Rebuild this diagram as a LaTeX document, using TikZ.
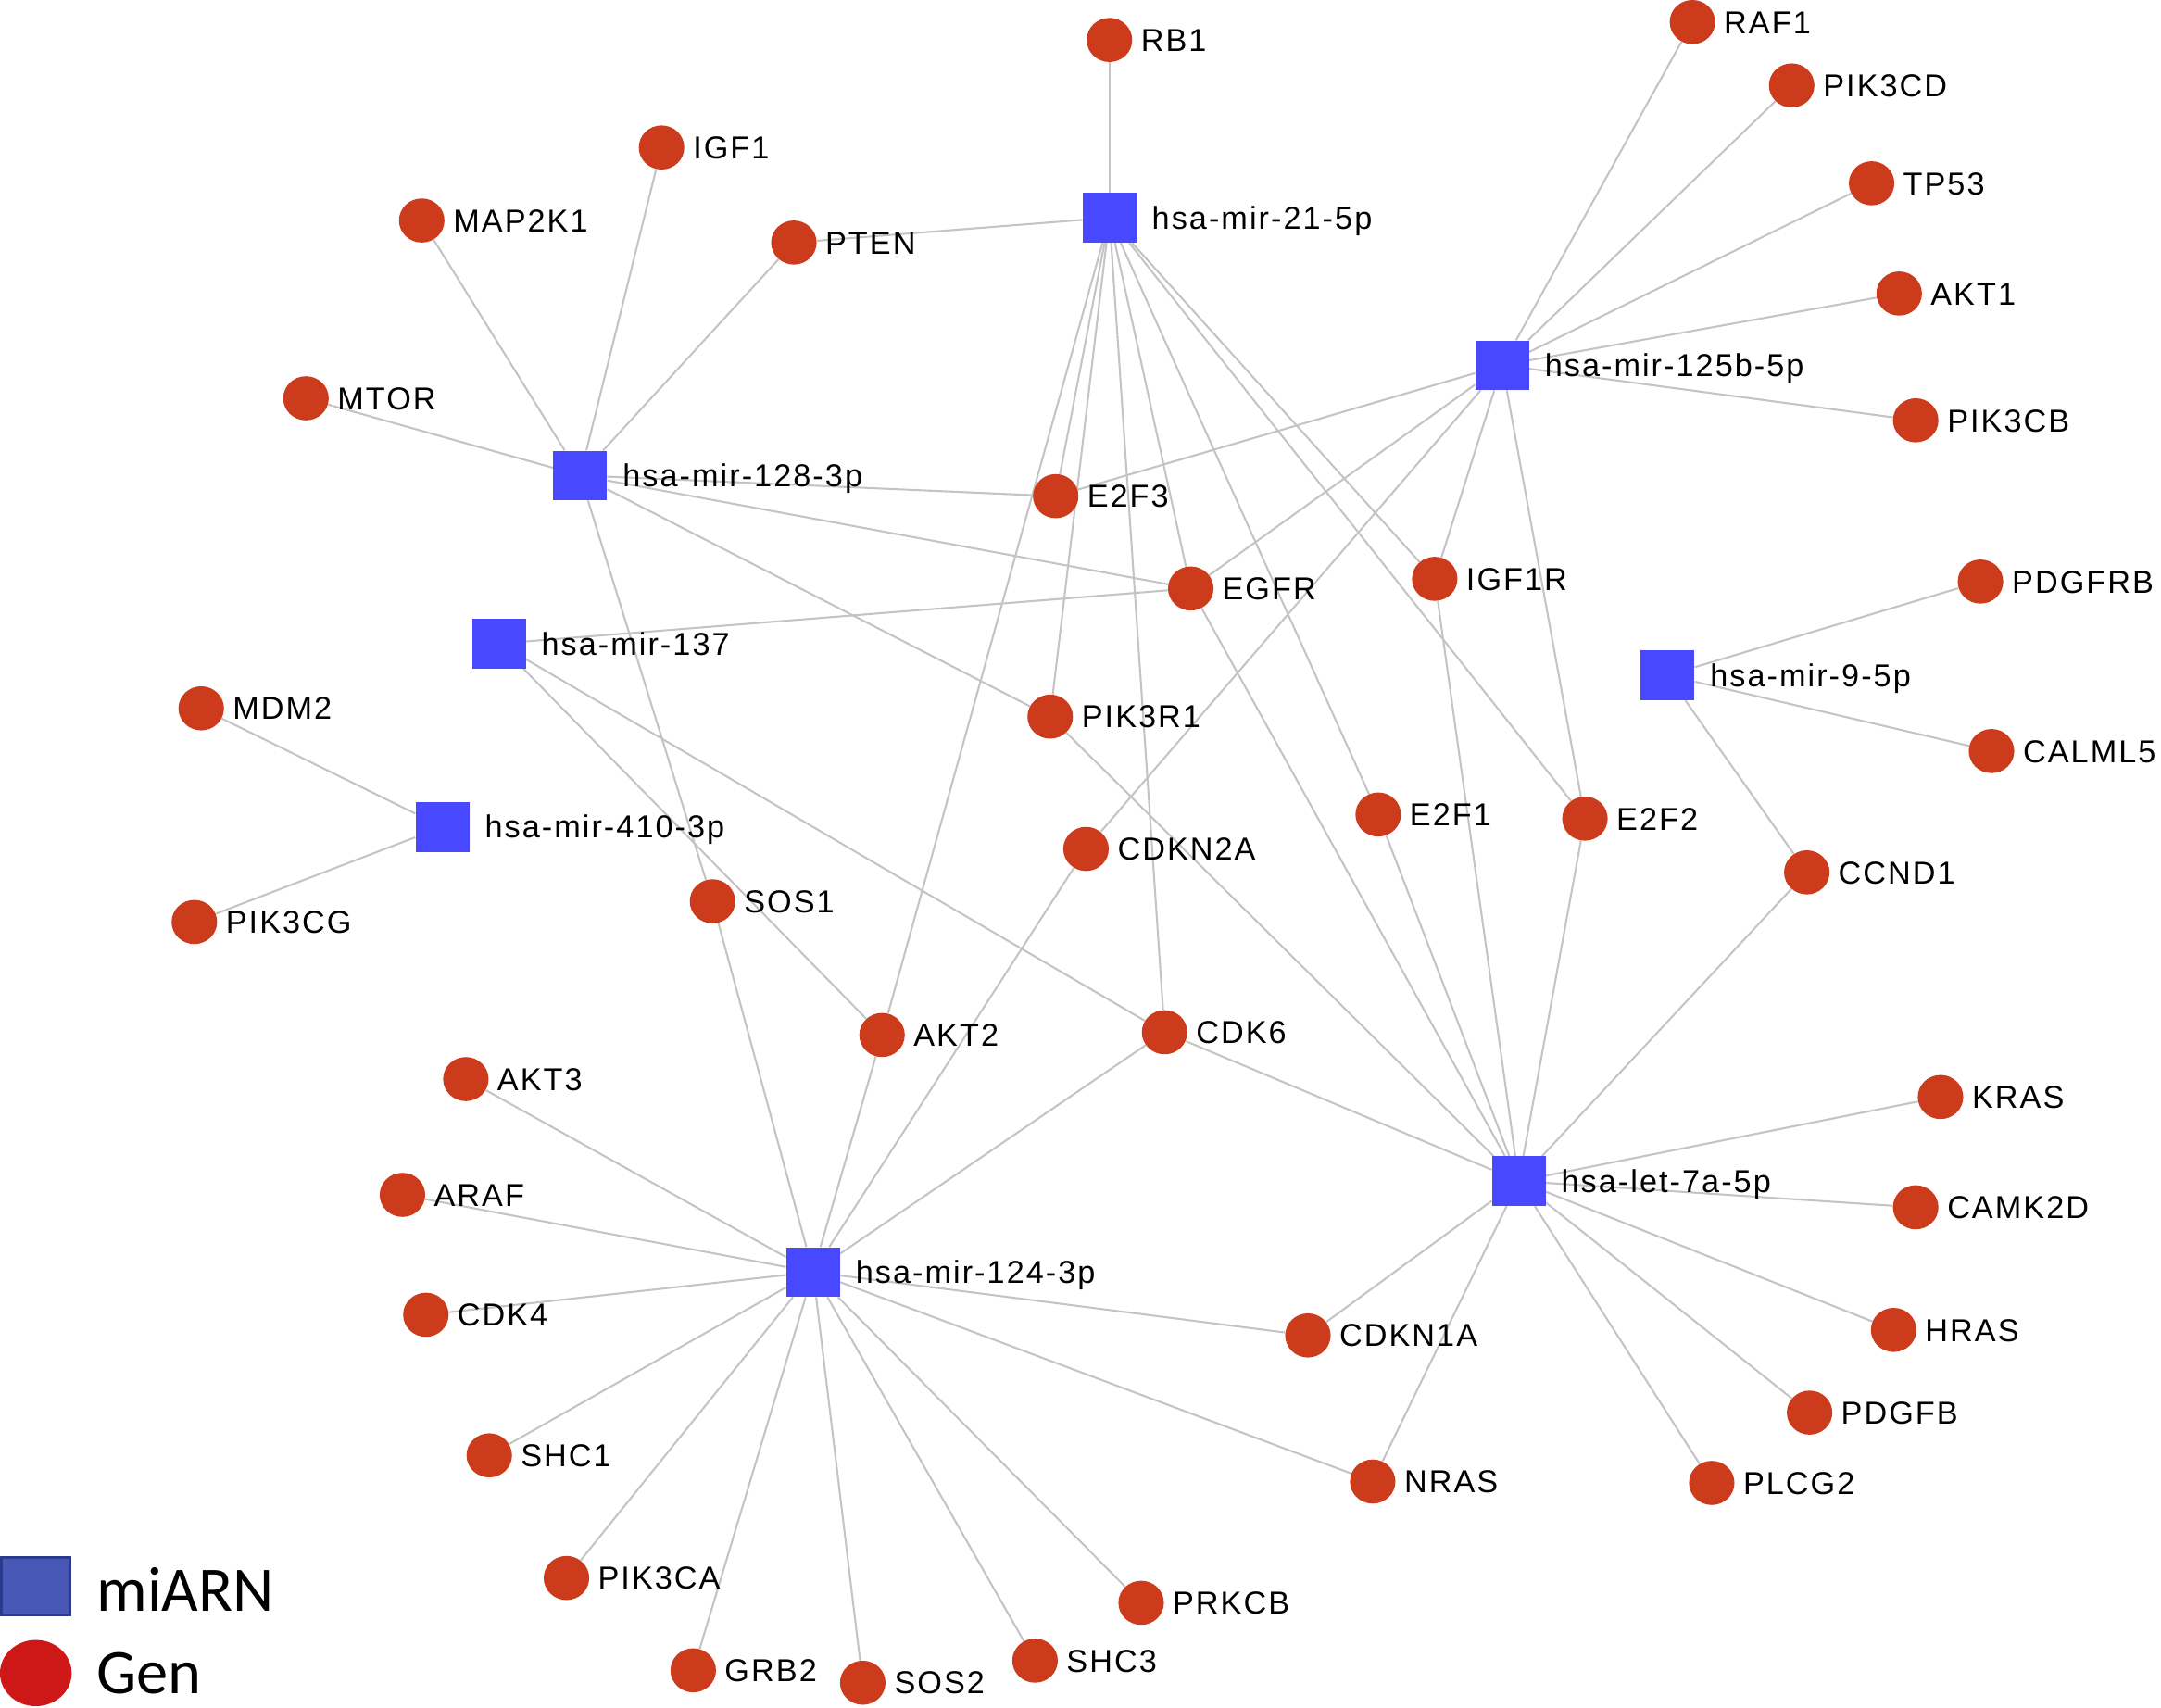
\documentclass[tikz,border=0pt]{standalone}
\usepackage{fontspec}
\setmainfont{Liberation Sans}[LetterSpace=6]
\newfontfamily\legfont{Carlito}
\usetikzlibrary{shapes.geometric,backgrounds}
\definecolor{mirblue}{RGB}{72,72,255}
\definecolor{genred}{RGB}{204,60,28}
\definecolor{edgegray}{RGB}{196,196,196}
\definecolor{legblue}{RGB}{70,87,181}
\definecolor{legborder}{RGB}{43,58,140}
\definecolor{legred}{RGB}{206,24,24}
\begin{document}
\begin{tikzpicture}[x=1pt,y=-1pt,
  lab/.style={inner sep=0pt, font=\fontsize{23}{25}\selectfont, text height=16.4pt, text depth=0pt},
  mir/.style={rectangle, fill=mirblue, minimum width=39pt, minimum height=36pt, inner sep=0pt,
              label={[lab, label distance=11pt]0:#1}},
  gene/.style={ellipse, fill=genred, minimum width=33pt, minimum height=32pt, inner sep=0pt,
              label={[lab, label distance=6pt]0:#1}},
  edge/.style={draw=edgegray, line width=1.4pt},
  legtext/.style={inner sep=0pt, anchor=west, font=\legfont\fontsize{46}{50}\selectfont, text height=29.6pt, text depth=0pt}]
\useasboundingbox (0,0) rectangle (1568,1239);

% miRNA nodes
\node[mir=hsa-mir-21-5p]   (m21)  at (805,158) {};
\node[mir=hsa-mir-125b-5p] (m125) at (1090,265) {};
\node[mir=hsa-mir-128-3p]  (m128) at (421,345) {};
\node[mir=hsa-mir-137]     (m137) at (362,467) {};
\node[mir=hsa-mir-410-3p]  (m410) at (321,600) {};
\node[mir=hsa-mir-9-5p]    (m9)   at (1210,490) {};
\node[mir=hsa-let-7a-5p]   (let7) at (1102,857) {};
\node[mir=hsa-mir-124-3p]  (m124) at (590,923) {};

% gene nodes
\node[gene=RB1]    (RB1)    at (805,29) {};
\node[gene=RAF1]   (RAF1)   at (1228,16) {};
\node[gene=PIK3CD] (PIK3CD) at (1300,62) {};
\node[gene=TP53]   (TP53)   at (1358,133) {};
\node[gene=AKT1]   (AKT1)   at (1378,213) {};
\node[gene=PIK3CB] (PIK3CB) at (1390,305) {};
\node[gene=IGF1]   (IGF1)   at (480,107) {};
\node[gene=MAP2K1] (MAP2K1) at (306,160) {};
\node[gene=PTEN]   (PTEN)   at (576,176) {};
\node[gene=MTOR]   (MTOR)   at (222,289) {};
\node[gene=E2F3]   (E2F3)   at (766,360) {};
\node[gene=EGFR]   (EGFR)   at (864,427) {};
\node[gene=IGF1R]  (IGF1R)  at (1041,420) {};
\node[gene=PDGFRB] (PDGFRB) at (1437,422) {};
\node[gene=CALML5] (CALML5) at (1445,545) {};
\node[gene=MDM2]   (MDM2)   at (146,514) {};
\node[gene=PIK3R1] (PIK3R1) at (762,520) {};
\node[gene=PIK3CG] (PIK3CG) at (141,669) {};
\node[gene=E2F1]   (E2F1)   at (1000,591) {};
\node[gene=E2F2]   (E2F2)   at (1150,594) {};
\node[gene=CDKN2A] (CDKN2A) at (788,616) {};
\node[gene=SOS1]   (SOS1)   at (517,654) {};
\node[gene=CCND1]  (CCND1)  at (1311,633) {};
\node[gene=AKT2]   (AKT2)   at (640,751) {};
\node[gene=CDK6]   (CDK6)   at (845,749) {};
\node[gene=AKT3]   (AKT3)   at (338,783) {};
\node[gene=KRAS]   (KRAS)   at (1408,796) {};
\node[gene=ARAF]   (ARAF)   at (292,867) {};
\node[gene=CAMK2D] (CAMK2D) at (1390,876) {};
\node[gene=CDK4]   (CDK4)   at (309,954) {};
\node[gene=CDKN1A] (CDKN1A) at (949,969) {};
\node[gene=HRAS]   (HRAS)   at (1374,965) {};
\node[gene=PDGFB]  (PDGFB)  at (1313,1025) {};
\node[gene=SHC1]   (SHC1)   at (355,1056) {};
\node[gene=NRAS]   (NRAS)   at (996,1075) {};
\node[gene=PLCG2]  (PLCG2)  at (1242,1076) {};
\node[gene=PIK3CA] (PIK3CA) at (411,1145) {};
\node[gene=PRKCB]  (PRKCB)  at (828,1163) {};
\node[gene=GRB2]   (GRB2)   at (503,1212) {};
\node[gene=SOS2]   (SOS2)   at (626,1221) {};
\node[gene=SHC3]   (SHC3)   at (751,1205) {};

% edges
\begin{scope}[on background layer]
\foreach \a/\b in {m21/RB1, m21/PTEN, m21/AKT2, m21/E2F3, m21/PIK3R1, m21/CDK6, m21/EGFR, m21/E2F1, m21/IGF1R, m21/E2F2,
  m125/RAF1, m125/PIK3CD, m125/TP53, m125/AKT1, m125/PIK3CB, m125/E2F3, m125/EGFR, m125/CDKN2A, m125/IGF1R, m125/E2F2,
  m128/MAP2K1, m128/IGF1, m128/PTEN, m128/MTOR, m128/E2F3, m128/EGFR, m128/PIK3R1, m128/SOS1,
  m137/EGFR, m137/AKT2, m137/CDK6,
  m410/MDM2, m410/PIK3CG,
  m9/PDGFRB, m9/CALML5, m9/CCND1,
  let7/PIK3R1, let7/EGFR, let7/E2F1, let7/IGF1R, let7/E2F2, let7/CCND1, let7/CDK6, let7/KRAS, let7/CAMK2D,
  let7/HRAS, let7/PDGFB, let7/PLCG2, let7/NRAS, let7/CDKN1A,
  m124/SOS1, m124/AKT2, m124/CDKN2A, m124/CDK6, m124/AKT3, m124/ARAF, m124/CDK4, m124/SHC1, m124/PIK3CA,
  m124/GRB2, m124/SOS2, m124/SHC3, m124/PRKCB, m124/NRAS, m124/CDKN1A}
  \draw[edge] (\a) -- (\b);
\end{scope}

% legend
\node[rectangle, draw=legborder, line width=1.6pt, fill=legblue, minimum width=50pt, minimum height=42pt, inner sep=0pt] (legmir) at (26,1151) {};
\node[legtext] (legmirt) at (70,1154) {miARN};
\node[ellipse, fill=legred, minimum width=52pt, minimum height=48pt, inner sep=0pt] (leggen) at (26,1214) {};
\node[legtext] (leggent) at (70,1214) {Gen};
\end{tikzpicture}
\end{document}
